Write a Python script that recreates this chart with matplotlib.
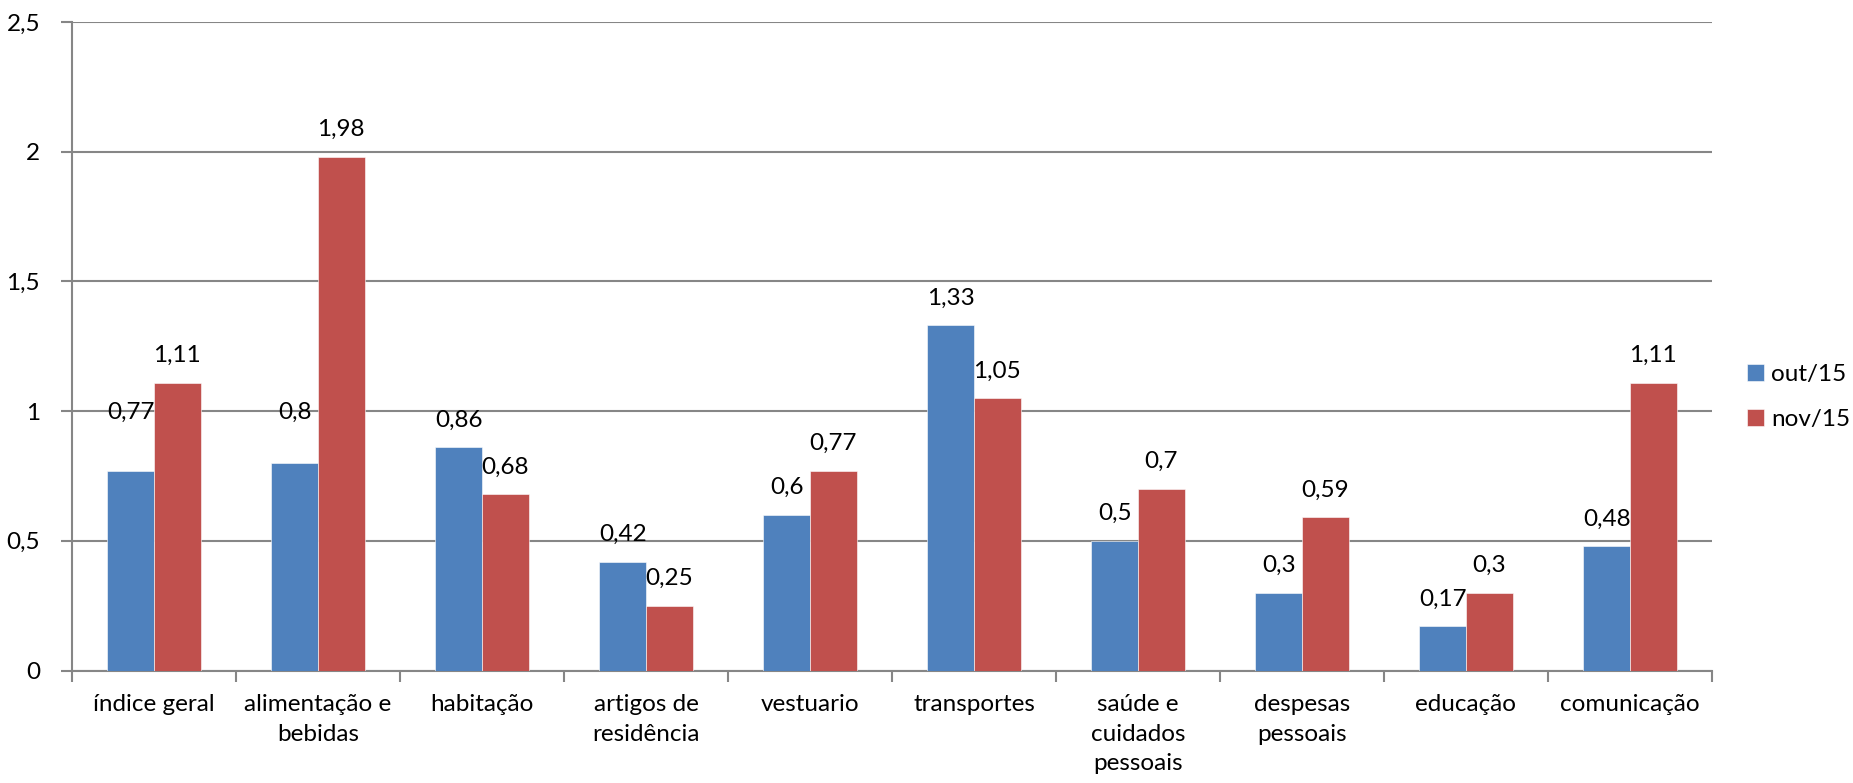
import numpy as np
import matplotlib.pyplot as plt

plt.rcParams['font.family'] = ['Lato', 'DejaVu Sans']

categorias = ["índice geral", "alimentação e\nbebidas", "habitação", "artigos de\nresidência",
              "vestuario", "transportes", "saúde e\ncuidados\npessoais", "despesas\npessoais",
              "educação", "comunicação"]
out15 = [0.77, 0.8, 0.86, 0.42, 0.6, 1.33, 0.5, 0.3, 0.17, 0.48]
nov15 = [1.11, 1.98, 0.68, 0.25, 0.77, 1.05, 0.7, 0.59, 0.3, 1.11]
series = ["out/15", "nov/15"]
cores = ["#4F81BD", "#C0504D"]

# two labels in the original were lifted by hand to avoid the nov bar labels
label_base = {("out/15", 0): 0.89, ("out/15", 1): 0.89}

fs = 17.5


def fmt(v):
    return f"{v:g}".replace(".", ",")


fig = plt.figure(figsize=(18.53, 7.83), dpi=100)
ax = fig.add_axes([72 / 1853, 1 - 670.5 / 783, 1640 / 1853, 648.5 / 783])

x = np.arange(len(categorias))
w = 0.284
grid_c = "#868686"

for i, (nome, vals) in enumerate(zip(series, [out15, nov15])):
    pos = x + (i - 0.5) * w
    ax.bar(pos, vals, width=w, color=cores[i], label=nome, zorder=3,
           edgecolor="white", linewidth=0.4)
    for j, (p, v) in enumerate(zip(pos, vals)):
        base = label_base.get((nome, j), v)
        ax.annotate(fmt(v), (p, base), xytext=(0, 19.5), textcoords="offset points",
                    ha="center", va="center", fontsize=fs, zorder=4)

ax.set_xlim(-0.5, len(categorias) - 0.5)
ax.set_ylim(0, 2.5)
ax.set_yticks(np.arange(0, 2.51, 0.5))
ax.set_yticklabels([fmt(v) for v in np.arange(0, 2.51, 0.5)])
ax.yaxis.grid(True, color=grid_c, linewidth=1.5, zorder=0)
ax.set_axisbelow(True)

ax.set_xticks(np.arange(-0.5, len(categorias), 1.0))
ax.set_xticklabels([])
ax.set_xticks(x, minor=True)
ax.set_xticklabels(categorias, minor=True, fontsize=fs, linespacing=1.5)
ax.tick_params(axis="x", which="major", length=8, width=1.5, color=grid_c, direction="out")
ax.tick_params(axis="x", which="minor", length=0, pad=17)
ax.tick_params(axis="y", length=8, width=1.5, color=grid_c, labelsize=fs, pad=15)

for s in ["top", "right"]:
    ax.spines[s].set_visible(False)
for s in ["left", "bottom"]:
    ax.spines[s].set_color(grid_c)
    ax.spines[s].set_linewidth(1.5)

fig.legend(loc="center left", bbox_to_anchor=(1747 / 1853, 1 - 397 / 783), frameon=False,
           fontsize=fs, handlelength=0.7, handleheight=0.7, handletextpad=0.3,
           labelspacing=1.0, borderpad=0, borderaxespad=0)

fig.savefig("out.png", dpi=100)
